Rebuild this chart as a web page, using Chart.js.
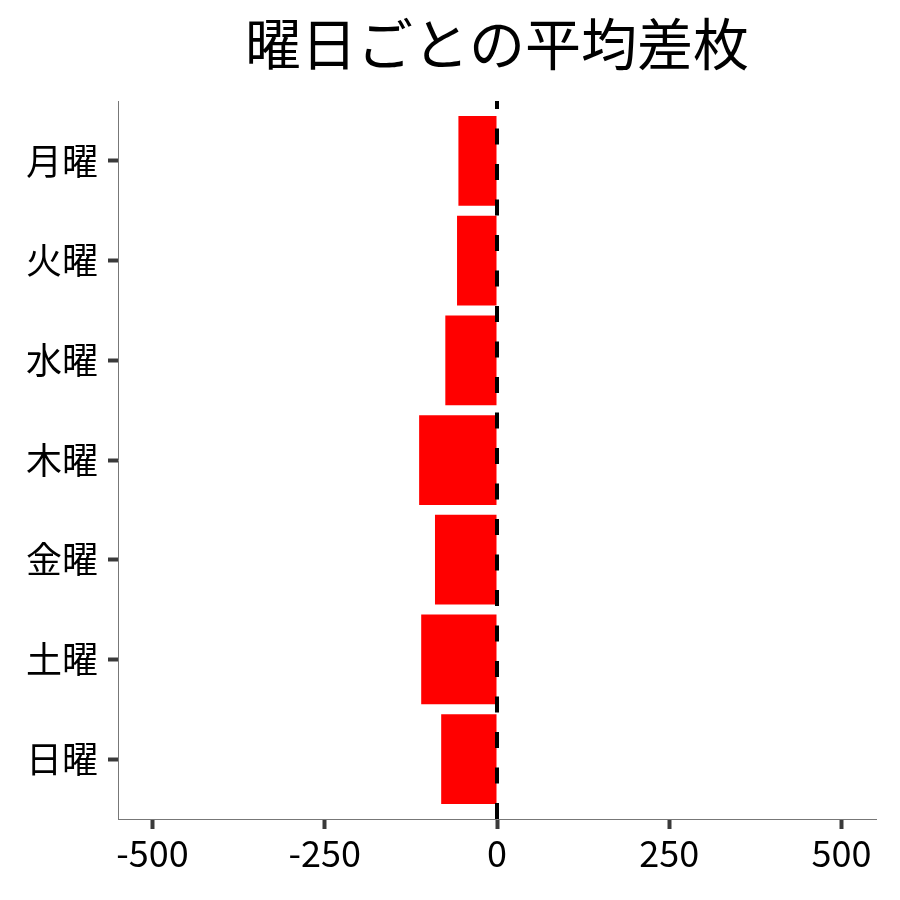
<!DOCTYPE html>
<html>
<head>
<meta charset="utf-8">
<script src="https://cdn.jsdelivr.net/npm/chart.js@4"></script>
<style>
    html, body { margin: 0; padding: 0; background: #fff; }
    #wrap { width: 900px; height: 900px; }
</style>
</head>
<body>
<div id="wrap"><canvas id="chart" width="900" height="900"></canvas></div>
<script>
// Data
const days = ['月曜', '火曜', '水曜', '木曜', '金曜', '土曜', '日曜'];
const avgDiff = [-56, -58, -75, -113, -90, -110, -81];
const xTicks = [-500, -250, 0, 250, 500];
const chartTitle = '曜日ごとの平均差枚';

const FONT = '"Noto Sans CJK JP", "Noto Sans", sans-serif';

// Title centred over the plot panel (like ggplot)
const panelTitle = {
    id: 'panelTitle',
    afterDraw(chart) {
        const ctx = chart.ctx;
        const area = chart.chartArea;
        ctx.save();
        ctx.fillStyle = '#000';
        ctx.font = `56px ${FONT}`;
        ctx.textAlign = 'center';
        ctx.textBaseline = 'middle';
        ctx.fillText(chartTitle, (area.left + area.right) / 2, 44);
        ctx.restore();
    }
};

// Dashed reference line at zero (dash pattern starts at the bottom)
const zeroLine = {
    id: 'zeroLine',
    afterDatasetsDraw(chart) {
        const ctx = chart.ctx;
        const area = chart.chartArea;
        const x = chart.scales.x.getPixelForValue(0);
        ctx.save();
        ctx.strokeStyle = '#000';
        ctx.lineWidth = 4;
        ctx.setLineDash([16, 19.5]);
        ctx.beginPath();
        ctx.moveTo(x, area.bottom);
        ctx.lineTo(x, area.top);
        ctx.stroke();
        ctx.restore();
    }
};

new Chart(document.getElementById('chart'), {
    type: 'bar',
    data: {
        datasets: [{
            data: avgDiff.map((v, i) => ({ x: v, y: i })),
            backgroundColor: '#ff0000',
            borderWidth: 0,
            barPercentage: 0.9,
            categoryPercentage: 1
        }]
    },
    options: {
        indexAxis: 'y',
        responsive: false,
        animation: false,
        devicePixelRatio: 1,
        layout: { padding: { top: 101, right: 24, left: 0, bottom: 0 } },
        plugins: {
            legend: { display: false },
            title: { display: false },
            tooltip: { enabled: false }
        },
        scales: {
            x: {
                type: 'linear',
                min: -550,
                max: 550,
                afterBuildTicks: scale => { scale.ticks = xTicks.map(v => ({ value: v })); },
                afterFit: scale => { scale.height = 81; },
                border: { display: true, color: '#777', width: 1 },
                grid: {
                    drawOnChartArea: false,
                    drawTicks: true,
                    tickLength: 10,
                    tickColor: '#3a3a3a',
                    tickWidth: 4
                },
                ticks: {
                    color: '#000',
                    padding: 3,
                    maxRotation: 0,
                    font: { family: FONT, size: 36 },
                    callback: v => String(v)
                }
            },
            y: {
                type: 'linear',
                reverse: true,
                offset: false,
                min: -0.6,
                max: days.length - 0.4,
                afterBuildTicks: scale => { scale.ticks = days.map((_, i) => ({ value: i })); },
                afterFit: scale => { scale.width = 118; },
                border: { display: true, color: '#777', width: 1 },
                grid: {
                    offset: false,
                    drawOnChartArea: false,
                    drawTicks: true,
                    tickLength: 10,
                    tickColor: '#3a3a3a',
                    tickWidth: 4
                },
                ticks: {
                    color: '#000',
                    padding: 10,
                    font: { family: FONT, size: 36 },
                    callback: v => days[v]
                }
            }
        }
    },
    plugins: [panelTitle, zeroLine]
});
</script>
</body>
</html>
